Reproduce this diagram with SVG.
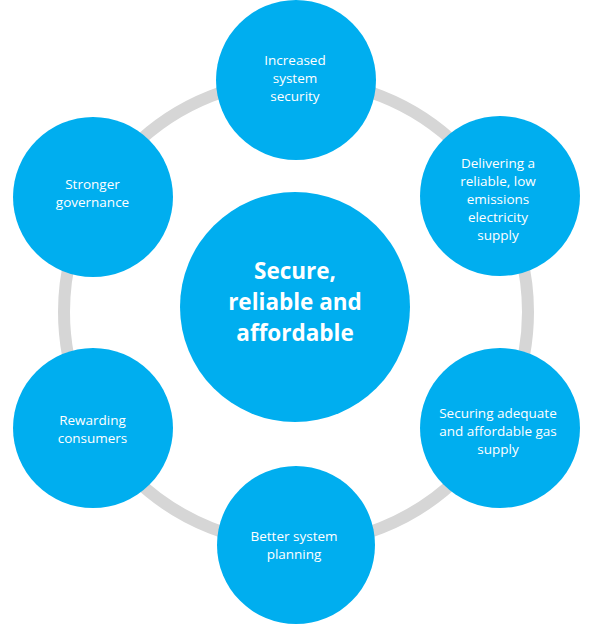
<svg xmlns="http://www.w3.org/2000/svg" width="600" height="635" viewBox="0 0 600 635">
<style>
.node{fill:#00aeef}
.lbl{font-family:"Open Sans","Liberation Sans",sans-serif;font-size:13.5px;fill:#ffffff;text-anchor:middle}
.main{font-family:"Open Sans","Liberation Sans",sans-serif;font-size:22.5px;font-weight:bold;fill:#ffffff;text-anchor:middle}
.ring{fill:none;stroke:#d6d6d6;stroke-width:12}
</style>
<rect width="600" height="635" fill="#ffffff"/>
<g id="connectors">
<circle class="ring" cx="296" cy="312" r="232"/>
</g>
<g id="center">
<circle class="node" cx="295" cy="307" r="115"/>
<text class="main" x="295" y="279">Secure,</text>
<text class="main" x="295" y="310">reliable and</text>
<text class="main" x="295" y="341">affordable</text>
</g>
<g id="security">
<circle class="node" cx="296" cy="80" r="80"/>
<text class="lbl" x="295" y="65">Increased</text>
<text class="lbl" x="295" y="83">system</text>
<text class="lbl" x="295" y="101">security</text>
</g>
<g id="electricity">
<circle class="node" cx="500" cy="196" r="80"/>
<text class="lbl" x="498" y="168">Delivering a</text>
<text class="lbl" x="498" y="186">reliable, low</text>
<text class="lbl" x="498" y="204">emissions</text>
<text class="lbl" x="498" y="222">electricity</text>
<text class="lbl" x="498" y="240">supply</text>
</g>
<g id="gas">
<circle class="node" cx="500" cy="428" r="80"/>
<text class="lbl" x="498" y="418">Securing adequate</text>
<text class="lbl" x="498" y="436">and affordable gas</text>
<text class="lbl" x="498" y="454">supply</text>
</g>
<g id="planning">
<circle class="node" cx="296" cy="545" r="79"/>
<text class="lbl" x="294" y="541">Better system</text>
<text class="lbl" x="294" y="559">planning</text>
</g>
<g id="consumers">
<circle class="node" cx="93" cy="428" r="80"/>
<text class="lbl" x="92.5" y="425">Rewarding</text>
<text class="lbl" x="92.5" y="443">consumers</text>
</g>
<g id="governance">
<circle class="node" cx="93" cy="197" r="80"/>
<text class="lbl" x="92.5" y="189">Stronger</text>
<text class="lbl" x="92.5" y="207">governance</text>
</g>
</svg>
